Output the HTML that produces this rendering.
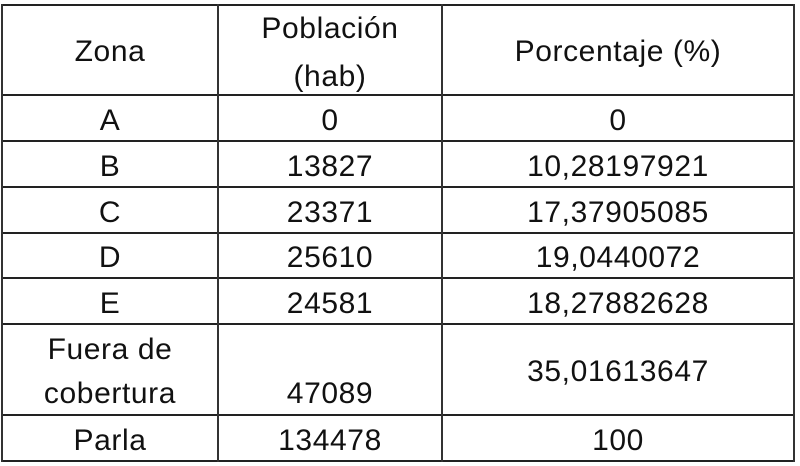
<!DOCTYPE html>
<html><head><meta charset="utf-8"><style>
html,body{margin:0;padding:0;background:#fff;width:800px;height:466px;overflow:hidden}
body{position:relative;font-family:"Liberation Sans",sans-serif;color:#111}
.h{position:absolute;left:2px;width:792px;height:2px;background:#222}
.v{position:absolute;top:4px;height:458px;width:2px;background:#333}
.t{position:absolute;font-size:30px;line-height:30px;text-align:center;letter-spacing:0.6px;white-space:nowrap}
</style></head><body>
<div class="h" style="top:4px"></div>
<div class="h" style="top:94px"></div>
<div class="h" style="top:140px"></div>
<div class="h" style="top:186px"></div>
<div class="h" style="top:232px"></div>
<div class="h" style="top:277px"></div>
<div class="h" style="top:323px"></div>
<div class="h" style="top:414px"></div>
<div class="h" style="top:460px"></div>
<div class="v" style="left:1px"></div>
<div class="v" style="left:217px"></div>
<div class="v" style="left:441px"></div>
<div class="v" style="left:793px"></div>

<div class="t" style="left:2px;width:216px;top:37px">Zona</div>
<div class="t" style="left:219px;width:222px;top:14px">Población</div>
<div class="t" style="left:219px;width:222px;top:62px">(hab)</div>
<div class="t" style="left:443px;width:350px;top:37px">Porcentaje (%)</div>

<div class="t" style="left:2px;width:216px;top:106px">A</div>
<div class="t" style="left:219px;width:222px;top:106px">0</div>
<div class="t" style="left:443px;width:350px;top:106px">0</div>

<div class="t" style="left:2px;width:216px;top:152px">B</div>
<div class="t" style="left:219px;width:222px;top:152px">13827</div>
<div class="t" style="left:443px;width:350px;top:152px">10,28197921</div>

<div class="t" style="left:2px;width:216px;top:198px">C</div>
<div class="t" style="left:219px;width:222px;top:198px">23371</div>
<div class="t" style="left:443px;width:350px;top:198px">17,37905085</div>

<div class="t" style="left:2px;width:216px;top:243px">D</div>
<div class="t" style="left:219px;width:222px;top:243px">25610</div>
<div class="t" style="left:443px;width:350px;top:243px">19,0440072</div>

<div class="t" style="left:2px;width:216px;top:289px">E</div>
<div class="t" style="left:219px;width:222px;top:289px">24581</div>
<div class="t" style="left:443px;width:350px;top:289px">18,27882628</div>

<div class="t" style="left:2px;width:216px;top:335px">Fuera de</div>
<div class="t" style="left:2px;width:216px;top:379px">cobertura</div>
<div class="t" style="left:219px;width:222px;top:379px">47089</div>
<div class="t" style="left:443px;width:350px;top:357px">35,01613647</div>

<div class="t" style="left:2px;width:216px;top:426px">Parla</div>
<div class="t" style="left:219px;width:222px;top:426px">134478</div>
<div class="t" style="left:443px;width:350px;top:426px">100</div>
</body></html>
